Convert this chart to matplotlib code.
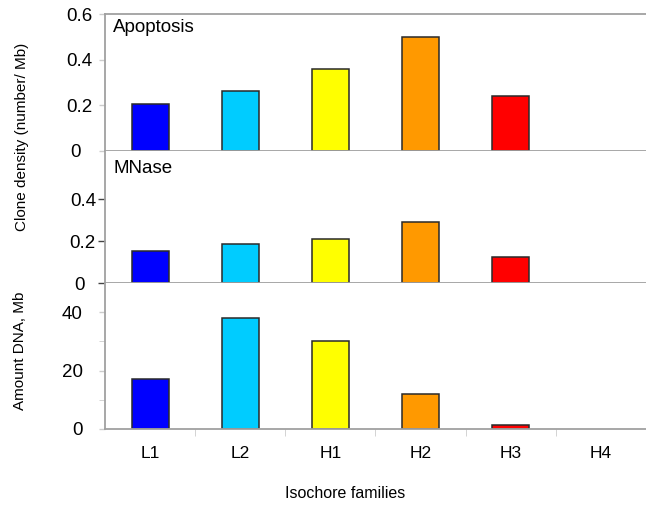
import matplotlib
matplotlib.use('Agg')
import matplotlib.pyplot as plt
import numpy as np

plt.rcParams['font.family'] = ['Liberation Sans', 'DejaVu Sans']

families = ['L1', 'L2', 'H1', 'H2', 'H3', 'H4']
colors = ['#0000ff', '#00ccff', '#ffff00', '#ff9900', '#ff0000', '#ffffff']

apoptosis = [0.207, 0.265, 0.36, 0.50, 0.24, 0.0]
mnase = [0.152, 0.185, 0.21, 0.29, 0.124, 0.0]
amount_dna = [17.1, 38.1, 30.2, 12.1, 1.4, 0.0]

spine_col = '#a0a0a0'
x = np.arange(len(families))

fig = plt.figure(figsize=(6.46, 5.05), dpi=100)
left, width = 0.1625, 0.8375
ax1 = fig.add_axes([left, 0.701, width, 0.271])
ax2 = fig.add_axes([left, 0.4396, width, 0.2614])
ax3 = fig.add_axes([left, 0.1505, width, 0.2891])

for ax, vals in [(ax1, apoptosis), (ax2, mnase), (ax3, amount_dna)]:
    edges = ['#2a2a2a' if v > 0 else 'none' for v in vals]
    ax.bar(x, vals, width=0.41, color=colors, edgecolor=edges, linewidth=1.1)
    ax.set_xlim(-0.5, 5.5)
    ax.spines['right'].set_visible(False)
    for s in ['left', 'bottom', 'top']:
        ax.spines[s].set_color(spine_col)
        ax.spines[s].set_linewidth(1.3)
    ax.tick_params(axis='y', labelsize=13.5, color='#cccccc', length=4, width=1)
    ax.set_xticks([])

# top panel
ax1.set_ylim(0, 0.6)
ax1.set_yticks([0, 0.2, 0.4, 0.6], labels=['0  ', '0.2', '0.4', '0.6'])
ax1.tick_params(axis='y', pad=5)
ax1.text(0.015, 0.9, 'Apoptosis', transform=ax1.transAxes, fontsize=13.5,
         ha='left', va='center')

# middle panel
ax2.set_ylim(0, 0.63)
ax2.spines['top'].set_visible(False)
ax2.set_yticks([0, 0.2, 0.4], labels=['0  ', '0.2', '0.4'])
ax2.tick_params(axis='y', color='#444444', length=5, pad=1.5)
ax2.text(0.015, 0.87, 'MNase', transform=ax2.transAxes, fontsize=13.5,
         ha='left', va='center')

# bottom panel
ax3.set_ylim(0, 50)
ax3.spines['top'].set_visible(False)
ax3.set_yticks([0, 20, 40], labels=['0', '20', '40'])
ax3.set_yticks([10, 30], minor=True)
ax3.tick_params(axis='y', which='both', color='#cccccc', length=4, pad=12)
ax3.set_xticks(x, labels=families)
ax3.set_xticks(x[:-1] + 0.5, minor=True)
ax3.tick_params(axis='x', which='major', length=0, labelsize=12.5, pad=12)
ax3.tick_params(axis='x', which='minor', length=5, color='#cccccc')

fig.text(0.034, 0.728, 'Clone density (number/ Mb)', rotation=90,
         ha='center', va='center', fontsize=11)
fig.text(0.031, 0.305, 'Amount DNA, Mb', rotation=90,
         ha='center', va='center', fontsize=11)
fig.text(0.535, 0.022, 'Isochore families', ha='center', va='center',
         fontsize=11.5)

fig.savefig('out.png', dpi=100)
